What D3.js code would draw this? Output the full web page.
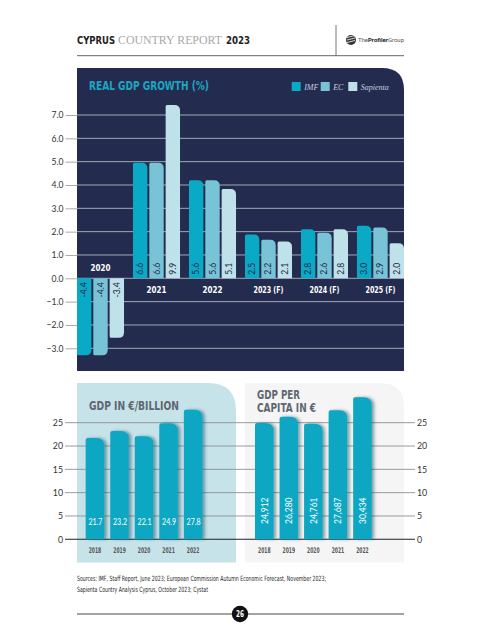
<!DOCTYPE html>
<html><head><meta charset="utf-8">
<script src="https://cdn.jsdelivr.net/npm/d3@7"></script>
<style>
html,body{margin:0;padding:0;background:#fff;}
svg{display:block;}
.cond{font-family:"Liberation Sans Narrow","DejaVu Sans Condensed","Roboto",sans-serif;font-weight:bold;}
.num{font-family:"Lato","Open Sans",sans-serif;}
</style></head>
<body>
<svg id="chart" width="481" height="640"></svg>
<script>
// ---------- DATA ----------
const growthYears = ["2020", "2021", "2022", "2023 (F)", "2024 (F)", "2025 (F)"];
const growthSeries = ["IMF", "EC", "Sapienta"];
const imfGrowth = [-4.4, 6.6, 5.6, 2.5, 2.8, 3.0];
const ecGrowth = [-4.4, 6.6, 5.6, 2.2, 2.6, 2.9];
const sapientaGrowth = [-3.4, 9.9, 5.1, 2.1, 2.8, 2.0];
const growthTicks = [-3, -2, -1, 0, 1, 2, 3, 4, 5, 6, 7];

const gdpYears = ["2018", "2019", "2020", "2021", "2022"];
const gdpBillion = [21.7, 23.2, 22.1, 24.9, 27.8];
const gdpPerCapita = [24912, 26280, 24761, 27687, 30434];
const gdpTicks = [0, 5, 10, 15, 20, 25];

const sourcesLines = [
  "Sources: IMF, Staff Report, June 2023; European Commission Autumn Economic Forecast, November 2023;",
  "Sapienta Country Analysis Cyprus, October 2023; Cystat"
];

// ---------- STYLE ----------
const navy = "#232c4f";
const seriesColors = ["#0aa9c6", "#79c3d7", "#bfe1ea"];
const teal = "#0aa7c3";

const svg = d3.select("#chart");
const defs = svg.append("defs");
const f = defs.append("filter").attr("id","shadow").attr("x","-20%").attr("y","-10%").attr("width","160%").attr("height","130%");
f.append("feDropShadow").attr("dx",2.5).attr("dy",0).attr("stdDeviation",1.4).attr("flood-color","#0b3a48").attr("flood-opacity",0.45);

function barPath(x, w, yBase, yEnd, rl, rr) {
  const s = yEnd < yBase ? 1 : -1;
  const h = Math.abs(yEnd - yBase);
  rl = Math.min(rl, h); rr = Math.min(rr, h);
  return `M${x},${yBase}L${x},${yEnd + s*rl}Q${x},${yEnd} ${x+rl},${yEnd}` +
         `L${x+w-rr},${yEnd}Q${x+w},${yEnd} ${x+w},${yEnd + s*rr}L${x+w},${yBase}Z`;
}
function panelPath(x0, y0, x1, y1, r) {
  return `M${x0},${y0}L${x1-r},${y0}Q${x1},${y0} ${x1},${y0+r}L${x1},${y1}L${x0},${y1}Z`;
}
function condText(x, y, str, size, width, fill, anchor) {
  return svg.append("text").attr("class","cond").attr("x", x).attr("y", y)
    .attr("font-size", size).attr("fill", fill).attr("text-anchor", anchor || "start")
    .attr("textLength", width).attr("lengthAdjust","spacingAndGlyphs").text(str);
}

// ---------- HEADER ----------
condText(77, 44, "CYPRUS", 10.5, 38, "#222");
svg.append("text").attr("x", 118).attr("y", 44).attr("font-family","Liberation Serif, serif")
  .attr("font-size", 11.5).attr("fill","#a9a9a9").attr("textLength",104).attr("lengthAdjust","spacingAndGlyphs").text("COUNTRY REPORT");
condText(226, 44, "2023", 10.5, 24, "#222");
svg.append("line").attr("x1",77).attr("x2",404).attr("y1",55.7).attr("y2",55.7).attr("stroke","#666").attr("stroke-width",1);
svg.append("line").attr("x1",336).attr("x2",336).attr("y1",25).attr("y2",55.7).attr("stroke","#555").attr("stroke-width",0.8);
const logo = svg.append("g").attr("transform","translate(351,40)");
logo.append("circle").attr("r",5).attr("fill","#333");
[-2.5,0,2.5].forEach(o => logo.append("line").attr("x1",-4).attr("x2",4).attr("y1",o).attr("y2",o-2).attr("stroke","#fff").attr("stroke-width",0.8));
const lt = svg.append("text").attr("x",358).attr("y",42).attr("font-family","Roboto, sans-serif").attr("font-size",6.2).attr("fill","#555")
  .attr("textLength",46).attr("lengthAdjust","spacingAndGlyphs");
lt.append("tspan").text("The");
lt.append("tspan").attr("font-weight","bold").attr("fill","#222").text("Profiler");
lt.append("tspan").text("Group");

// ---------- TOP CHART: REAL GDP GROWTH ----------
svg.append("path").attr("d", panelPath(77, 68, 404, 371, 22)).attr("fill", navy);

const yAxisG = d3.scaleLinear().domain([-3, 7]).range([348.3, 115]);
// bars are drawn at 3/4 of the axis units, as in the original graphic
const yBarG = yAxisG.copy().domain(yAxisG.domain().map(d => d / 0.75));

const x0 = d3.scaleBand().domain(growthYears).range([77, 404]).paddingInner(0.16).paddingOuter(0);
const x1 = d3.scaleBand().domain(growthSeries).range([0, x0.bandwidth()]).paddingInner(0.12).paddingOuter(0);

growthTicks.forEach(t => {
  svg.append("line").attr("x1",77).attr("x2",404).attr("y1",yAxisG(t)).attr("y2",yAxisG(t))
    .attr("stroke", "#a3a8ba").attr("stroke-width", 1);
});
const axL = svg.append("g").attr("transform","translate(77,0)")
  .call(d3.axisLeft(yAxisG).tickValues(growthTicks).tickFormat(d3.format(".1f")).tickSize(11.5).tickPadding(2));
axL.select(".domain").remove();
axL.selectAll(".tick line").attr("stroke","#aaa");
axL.selectAll(".tick text").attr("class","num").attr("font-size",8.6).attr("fill","#333");

const seriesData = [imfGrowth, ecGrowth, sapientaGrowth];
const base = yBarG(0);
growthYears.forEach((yr, i) => {
  growthSeries.forEach((s, j) => {
    const v = seriesData[j][i];
    const x = x0(yr) + x1(s), w = x1.bandwidth();
    svg.append("path").attr("d", barPath(x, w, base, yBarG(v), 1.5, 5.5)).attr("fill", seriesColors[j]);
    const cx = x + w / 2;
    const ty = v >= 0 ? base - 3.5 : base + 4;
    svg.append("text").attr("class","num")
      .attr("transform", `translate(${cx},${ty}) rotate(-90)`)
      .attr("text-anchor", v >= 0 ? "start" : "end")
      .attr("dominant-baseline","central")
      .attr("font-size", 8.6).attr("fill", "#1e2846").text(v.toFixed(1));
  });
  const neg = imfGrowth[i] < 0;
  const lab = condText(x0(yr) + x0.bandwidth()/2, neg ? base - 10 : base + 12, yr, 8.4, yr.length > 4 ? 30 : 20, "#fff", "middle");
  lab.attr("dominant-baseline","central");
});

condText(89, 89.5, "REAL GDP GROWTH (%)", 13, 120, "#1ea5c1");
const legX = [291.7, 320.7, 348.3];
growthSeries.forEach((s, j) => {
  svg.append("rect").attr("x", legX[j]).attr("y", 82).attr("width", 9).attr("height", 9).attr("fill", seriesColors[j]);
  svg.append("text").attr("x", legX[j] + 12.5).attr("y", 89.5).attr("font-family","Liberation Serif, serif")
    .attr("font-style","italic").attr("font-size",8).attr("fill","#c9cfe0").text(s);
});

// ---------- BOTTOM CHARTS ----------
svg.append("path").attr("d", panelPath(77, 383, 236, 562.5, 28)).attr("fill", "#c6e3ea");
svg.append("path").attr("d", panelPath(245, 383, 404, 562.5, 24)).attr("fill", "#f5f5f5");

const yGdp = d3.scaleLinear().domain([0, 25]).range([539.3, 422.7]);
const yPc = yGdp.copy().domain([0, 25000]);

gdpTicks.forEach(t => {
  svg.append("line").attr("x1",65).attr("x2",415).attr("y1",yGdp(t)).attr("y2",yGdp(t))
    .attr("stroke", t === 0 ? "#222" : "#8d8f93").attr("stroke-width", t === 0 ? 1.1 : 0.9);
});
const axBL = svg.append("g").attr("transform","translate(65,0)")
  .call(d3.axisLeft(yGdp).tickValues(gdpTicks).tickSize(0).tickPadding(2));
axBL.select(".domain").remove();
axBL.selectAll(".tick text").attr("class","num").attr("font-size",8.8).attr("fill","#333");
const axBR = svg.append("g").attr("transform","translate(415,0)")
  .call(d3.axisRight(yGdp).tickValues(gdpTicks).tickSize(0).tickPadding(2));
axBR.select(".domain").remove();
axBR.selectAll(".tick text").attr("class","num").attr("font-size",8.8).attr("fill","#333");

const xL = d3.scaleBand().domain(gdpYears).range([85.7, 202.4]).paddingInner(0.244).paddingOuter(0);
const xR = d3.scaleBand().domain(gdpYears).range([255, 371.7]).paddingInner(0.244).paddingOuter(0);

const b0 = yGdp(0);
gdpYears.forEach((yr, i) => {
  const xl = xL(yr), w = xL.bandwidth();
  svg.append("path").attr("d", barPath(xl, w, b0, yGdp(gdpBillion[i]), 2, 8)).attr("fill", teal).attr("filter","url(#shadow)");
  svg.append("text").attr("class","num").attr("x", xl + w/2 + 0.5).attr("y", 524.5).attr("text-anchor","middle")
    .attr("font-size", 8.8).attr("fill","#fff").attr("textLength",14).attr("lengthAdjust","spacingAndGlyphs").text(gdpBillion[i].toFixed(1));
  condText(xl + w/2, 553, yr, 7.8, 12.5, "#555", "middle");
  const xr = xR(yr);
  svg.append("path").attr("d", barPath(xr, w, b0, yPc(gdpPerCapita[i]), 2, 8)).attr("fill", teal).attr("filter","url(#shadow)");
  svg.append("text").attr("class","num").attr("transform", `translate(${xr + w/2},${524}) rotate(-90)`)
    .attr("dominant-baseline","central").attr("font-size", 9.4).attr("fill","#fff")
    .attr("textLength",26.5).attr("lengthAdjust","spacingAndGlyphs").text(d3.format(",")(gdpPerCapita[i]));
  condText(xr + w/2, 553, yr, 7.8, 12.5, "#555", "middle");
});

condText(89, 409.5, "GDP IN €/BILLION", 12, 90, "#5f6670");
condText(257, 398.5, "GDP PER", 12.3, 43, "#5f6670");
condText(257, 411.5, "CAPITA IN €", 12.3, 59, "#5f6670");

// ---------- FOOTER ----------
const srcW = [249, 131];
sourcesLines.forEach((s, i) => {
  svg.append("text").attr("x", 77).attr("y", 581 + i * 11).attr("font-family","DejaVu Sans Condensed, sans-serif")
    .attr("font-size", 7.2).attr("fill","#222").attr("textLength", srcW[i]).attr("lengthAdjust","spacingAndGlyphs").text(s);
});
svg.append("line").attr("x1",77).attr("x2",404).attr("y1",614).attr("y2",614).attr("stroke","#333").attr("stroke-width",0.9);
svg.append("circle").attr("cx",240).attr("cy",614).attr("r",8.2).attr("fill","#111");
condText(240, 617, "26", 8.5, 8, "#fff", "middle");
</script>
</body></html>
